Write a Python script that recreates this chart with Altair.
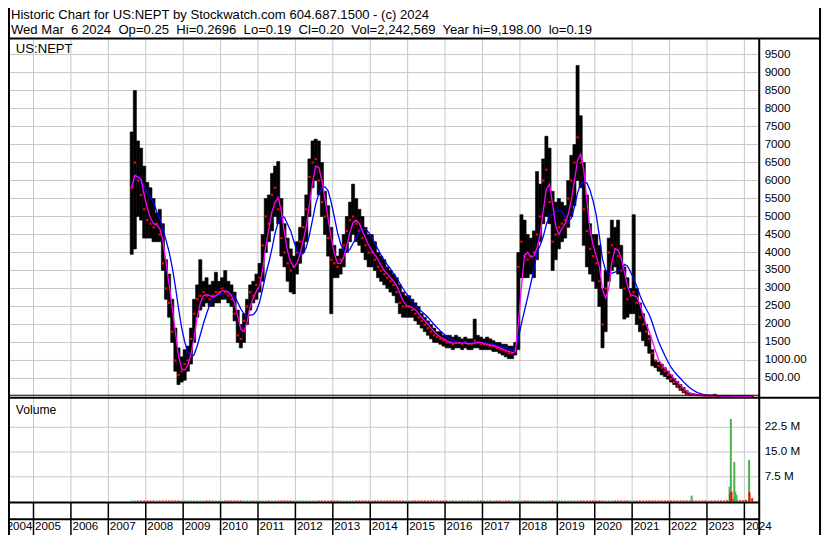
import altair as alt
import pandas as pd

# ---------------- canvas geometry (reference is 830x543, page has 8px margin) -------------
W, H = 814, 527
SX, SY = W / 830.0, H / 543.0


def X(v):
    return round(v * SX, 2)


def Y(v):
    return round(v * SY, 2)


FONT = "Liberation Sans"
GRID = "#c8c8c8"
GREEN = "#4cb04c"
RED = "#ff0000"

# ---------------- texts ----------------
SP = "\u00a0 "
title_line1 = "Historic Chart for US:NEPT by Stockwatch.com 604.687.1500 - (c) 2024"
title_line2 = SP.join(["Wed Mar", "6 2024", "Op=0.25", "Hi=0.2696", "Lo=0.19", "Cl=0.20",
                       "Vol=2,242,569", "Year hi=9,198.00", "lo=0.19"])
symbol = "US:NEPT"
volume_title = "Volume"

# ---------------- monthly price data (Aug 2007 .. Mar 2024) ----------------
first_year, first_month = 2007, 8
high = [
    7350, 8500, 7100, 6900, 6400,                                            # 2007 Aug-Dec
    5950, 5800, 5500, 5100, 5200, 4800, 3800, 3400, 2700, 1900, 1350, 1100,  # 2008
    1300, 1400, 1900, 2700, 3100, 3800, 3200, 3300, 3100, 3200, 3450, 3200,  # 2009
    3300, 3500, 3200, 3100, 2900, 2400, 2000, 2300, 2700, 3100, 3200, 3400,  # 2010
    3700, 4500, 5500, 5600, 6200, 6400, 6527, 5500, 4800, 4400, 4100, 3900,  # 2011
    4300, 4700, 5000, 5600, 6600, 7100, 7150, 7100, 6500, 5700, 5300, 4700,  # 2012
    4200, 3900, 4100, 4500, 5000, 5400, 5900, 5500, 5200, 5000, 4700, 4500,  # 2013
    4500, 4300, 4000, 3900, 3800, 3600, 3500, 3400, 3300, 3100, 2900, 2800,  # 2014
    2800, 2700, 2600, 2500, 2300, 2200, 2100, 2000, 1900, 1800, 1800, 1700,  # 2015
    1700, 1700, 1650, 1700, 1650, 1600, 1650, 1600, 1600, 2150, 1700, 1650,  # 2016
    1600, 1650, 1600, 1550, 1500, 1500, 1450, 1450, 1400, 1400, 1500, 4000,  # 2017
    5050, 4900, 4500, 4400, 4600, 6250, 5900, 6600, 7230, 6900, 5700, 5400,  # 2018
    5500, 5400, 5300, 6000, 6700, 7000, 9198, 7800, 6500, 5600, 4800, 4500,  # 2019
    4500, 4200, 3000, 3500, 4400, 4900, 4700, 4900, 4200, 3600, 3300, 3000,  # 2020
    5050, 3000, 2600, 2300, 2000, 1700, 1300, 1000, 950, 900, 800, 700,      # 2021
    600, 500, 420, 330, 250, 160, 100, 80, 60, 50, 45, 40,                   # 2022
    35, 30, 60, 25, 20, 16, 12, 10, 6, 4, 3, 2,                              # 2023
    1.2, 0.8, 0.27,                                                          # 2024 Jan-Mar
]
low = [
    3950, 4100, 5000, 4900, 4400,
    4400, 4400, 4300, 4300, 4300, 3500, 2700, 2200, 1500, 700, 330, 400,
    450, 700, 900, 1500, 2200, 2400, 2500, 2600, 2500, 2500, 2600, 2600,
    2700, 2700, 2600, 2500, 2100, 1500, 1350, 1500, 2000, 2400, 2600, 2700,
    2900, 3200, 4000, 4300, 4600, 5000, 4800, 3900, 3600, 3200, 2900, 2850,
    3400, 3700, 4000, 4300, 5000, 5800, 6000, 5600, 5000, 4500, 3900, 2300,
    3300, 3300, 3400, 3600, 4000, 4300, 4500, 4300, 4200, 4000, 3800, 3600,
    3600, 3500, 3300, 3200, 3100, 3000, 2900, 2800, 2600, 2300, 2200, 2200,
    2200, 2200, 2100, 2000, 1900, 1800, 1700, 1600, 1500, 1500, 1450, 1400,
    1350, 1350, 1300, 1350, 1350, 1300, 1350, 1300, 1300, 1350, 1350, 1300,
    1300, 1300, 1300, 1250, 1250, 1200, 1150, 1100, 1050, 1050, 1150, 1300,
    3300, 3300, 3300, 3400, 3300, 3800, 4300, 4800, 5000, 4800, 3500, 3800,
    4100, 4300, 4400, 4700, 5000, 5300, 6000, 5800, 4200, 3600, 3400, 3200,
    3000, 2500, 1350, 1800, 3200, 3500, 3600, 3400, 3000, 2150, 2200, 2300,
    2300, 2000, 1800, 1550, 1400, 1200, 850, 800, 700, 600, 550, 480,
    400, 330, 250, 170, 100, 50, 40, 35, 30, 25, 20, 15,
    15, 12, 12, 10, 8, 6, 5, 3, 2, 1, 0.8, 0.5,
    0.3, 0.2, 0.19,
]
close = [
    5800, 6500, 6000, 5600, 5200,
    4900, 4800, 4700, 4800, 4500, 3700, 3000, 2600, 1800, 1000, 600, 700,
    900, 1000, 1600, 2300, 2700, 2800, 2900, 2800, 2700, 2800, 2900, 2900,
    3000, 2900, 2800, 2700, 2300, 1700, 1600, 2100, 2500, 2900, 2800, 3100,
    3300, 4200, 5000, 4800, 5600, 5800, 5200, 4400, 4000, 3700, 3500, 3600,
    4000, 4300, 4700, 5200, 6100, 6500, 6600, 6000, 5400, 5000, 4400, 3800,
    3700, 3600, 3800, 4200, 4600, 4900, 5000, 4800, 4600, 4400, 4200, 4000,
    4000, 3800, 3600, 3500, 3400, 3300, 3200, 3100, 2900, 2600, 2500, 2500,
    2500, 2400, 2300, 2200, 2100, 2000, 1900, 1800, 1700, 1650, 1600, 1550,
    1500, 1500, 1450, 1500, 1500, 1450, 1500, 1450, 1450, 1550, 1500, 1450,
    1450, 1450, 1400, 1400, 1350, 1300, 1300, 1250, 1200, 1200, 1300, 3600,
    4300, 3900, 3800, 3900, 4000, 4500, 5000, 6000, 6300, 5400, 4300, 4500,
    4700, 4800, 4900, 5500, 6000, 6500, 7200, 6500, 5200, 4600, 4100, 3900,
    3700, 3200, 2000, 3000, 4000, 4200, 4100, 3900, 3500, 3000, 2700, 2800,
    2900, 2600, 2200, 2000, 1800, 1600, 1200, 1000, 850, 800, 700, 600,
    480, 400, 300, 220, 140, 80, 60, 50, 40, 35, 30, 25,
    25, 20, 18, 15, 12, 10, 8, 5, 3, 2, 1.5, 1,
    0.5, 0.3, 0.2,
]
# monthly volume (millions) - a thin baseline almost everywhere
vol_month = [
    0.3, 0.3, 0.3, 0.3, 0.3,
    0.3, 0.3, 0.3, 0.3, 0.3, 0.3, 0.3, 0.3, 0.3, 0.3, 0.3, 0.3,
    0.3, 0.3, 0.3, 0.3, 0.3, 0.3, 0.3, 0.3, 0.3, 0.3, 0.3, 0.3,
    0.3, 0.3, 0.3, 0.3, 0.3, 0.3, 0.3, 0.3, 0.3, 0.3, 0.3, 0.3,
    0.3, 0.3, 0.3, 0.3, 0.3, 0.3, 0.3, 0.3, 0.3, 0.3, 0.3, 0.3,
    0.3, 0.3, 0.3, 0.3, 0.3, 0.3, 0.3, 0.3, 0.3, 0.3, 0.3, 0.3,
    0.3, 0.3, 0.3, 0.3, 0.3, 0.3, 0.3, 0.3, 0.3, 0.3, 0.3, 0.3,
    0.3, 0.3, 0.3, 0.3, 0.3, 0.3, 0.3, 0.3, 0.3, 0.3, 0.3, 0.3,
    0.3, 0.3, 0.3, 0.3, 0.3, 0.3, 0.3, 0.3, 0.3, 0.3, 0.3, 0.3,
    0.3, 0.3, 0.3, 0.3, 0.3, 0.3, 0.3, 0.3, 0.3, 0.3, 0.3, 0.3,
    0.3, 0.3, 0.3, 0.3, 0.3, 0.3, 0.3, 0.3, 0.3, 0.3, 0.3, 0.3,
    0.3, 0.3, 0.3, 0.3, 0.3, 0.3, 0.3, 0.3, 0.3, 0.3, 0.3, 0.3,
    0.3, 0.3, 0.3, 0.3, 0.3, 0.3, 0.3, 0.3, 0.3, 0.3, 0.3, 0.3,
    0.3, 0.3, 0.3, 0.3, 0.3, 0.3, 0.3, 0.3, 0.3, 0.3, 0.3, 0.3,
    0.3, 0.3, 0.3, 0.3, 0.3, 0.3, 0.3, 0.3, 0.3, 0.3, 0.3, 0.3,
    0.3, 0.3, 0.3, 0.3, 0.3, 0.3, 0.3, 0.3, 0.3, 0.3, 0.3, 0.3,
    0.3, 0.3, 0.3, 0.3, 0.3, 0.3, 0.4, 0.6, 0.8, 0.5, 0.4, 0.4,
    0.5, 0.6, 1.0,
]
# the few large daily volume spikes (millions)
spike_dates = ["2022-08-05", "2023-08-10", "2023-08-14", "2023-08-22", "2023-08-28",
               "2023-09-25", "2023-10-05", "2023-10-16", "2024-02-16", "2024-02-20"]
spike_vol = [1.8, 4.5, 2.5, 25.0, 3.0, 12.0, 3.0, 2.0, 12.6, 2.8]
spike_dir = ["up", "up", "down", "up", "down", "up", "up", "up", "up", "down"]

# axis ticks
price_ticks = [500, 1000, 1500, 2000, 2500, 3000, 3500, 4000, 4500, 5000,
               5500, 6000, 6500, 7000, 7500, 8000, 8500, 9000, 9500]
price_tick_labels = ["500.00", "1000.00", "1500", "2000", "2500", "3000", "3500", "4000",
                     "4500", "5000", "5500", "6000", "6500", "7000", "7500", "8000",
                     "8500", "9000", "9500"]
vol_ticks = [7.5, 15.0, 22.5]
vol_tick_labels = ["7.5 M", "15.0 M", "22.5 M"]
years = list(range(2005, 2025))
year_labels = [str(y) for y in years]

# ---------------- tables ----------------
rows = []
yy, mm = first_year, first_month
for i in range(len(close)):
    t0 = yy + (mm - 1) / 12.0
    rows.append(dict(t0=t0, t1=t0 + 1 / 12.0, tm=t0 + 0.5 / 12.0,
                     high=high[i], low=low[i], close=close[i], vol=vol_month[i],
                     dir="up" if (i == 0 or close[i] >= close[i - 1]) else "down"))
    mm += 1
    if mm > 12:
        mm = 1
        yy += 1
price_df = pd.DataFrame(rows)


def frac_year(s):
    d = pd.Timestamp(s)
    return d.year + (d.dayofyear - 1) / 365.25


spike_df = pd.DataFrame({"t": [frac_year(s) for s in spike_dates],
                         "vol": spike_vol, "dir": spike_dir})
vol_df = pd.concat([price_df[["tm", "vol", "dir"]].rename(columns={"tm": "t"}), spike_df],
                   ignore_index=True)
vol_df["zero"] = 0.0

ptick_df = pd.DataFrame({"v": price_ticks, "label": price_tick_labels})
vtick_df = pd.DataFrame({"v": vol_ticks, "label": vol_tick_labels})
year_df = pd.DataFrame({"year": years, "label": year_labels})
first_label_df = pd.DataFrame({"year": [2005], "label": ["2004"]})

# ---------------- scales ----------------
xs = alt.Scale(domain=[2005, 2024], range=[X(26), X(750.85)], nice=False, zero=False)
ps = alt.Scale(domain=[0, 9958], range=[Y(400.24), Y(31)], nice=False, zero=False)
vs = alt.Scale(domain=[0, 30], range=[Y(508.5), Y(406.5)], nice=False, zero=False)
dir_color = alt.Color("dir:N", scale=alt.Scale(domain=["up", "down"], range=[GREEN, RED]),
                      legend=None)


def xq(field):
    return alt.X(field, scale=xs, axis=None)


layers = []

# vertical year gridlines (price + volume panels)
layers.append(alt.Chart(year_df).mark_rule(color=GRID, strokeWidth=1).encode(
    x=xq("year:Q"), y=alt.value(Y(32.5)), y2=alt.value(Y(508.5))))
# horizontal price gridlines
layers.append(alt.Chart(ptick_df).mark_rule(color=GRID, strokeWidth=1).encode(
    y=alt.Y("v:Q", scale=ps, axis=None), x=alt.value(X(2)), x2=alt.value(X(765))))
# horizontal volume gridlines
layers.append(alt.Chart(vtick_df).mark_rule(color=GRID, strokeWidth=1).encode(
    y=alt.Y("v:Q", scale=vs, axis=None), x=alt.value(X(2)), x2=alt.value(X(765))))

# price bars (monthly high-low range)
layers.append(alt.Chart(price_df).mark_rect(color="black", stroke="black", strokeWidth=0.6).encode(
    x=xq("t0:Q"), x2="t1:Q",
    y=alt.Y("low:Q", scale=ps, axis=None), y2="high:Q"))
# red close marks
layers.append(alt.Chart(price_df).mark_square(color=RED, size=5, opacity=1).encode(
    x=xq("tm:Q"), y=alt.Y("close:Q", scale=ps, axis=None)))
# long moving average (blue)
layers.append(alt.Chart(price_df).transform_window(
    ma="mean(close)", frame=[-6, 0], sort=[alt.SortField("tm")]
).mark_line(color="#0000ff", strokeWidth=1.3).encode(
    x=xq("tm:Q"), y=alt.Y("ma:Q", scale=ps, axis=None)))
# short moving average (magenta)
layers.append(alt.Chart(price_df).transform_window(
    ma="mean(close)", frame=[-2, 0], sort=[alt.SortField("tm")]
).mark_line(color="#ff00ff", strokeWidth=1.3).encode(
    x=xq("tm:Q"), y=alt.Y("ma:Q", scale=ps, axis=None)))

# volume bars
layers.append(alt.Chart(vol_df).mark_rule(strokeWidth=2).encode(
    x=xq("t:Q"), y=alt.Y("vol:Q", scale=vs, axis=None), y2="zero:Q", color=dir_color))


# ---------------- frame lines ----------------
def hline(x1, x2, y, w=2, color="black"):
    return alt.Chart(pd.DataFrame({"k": [0]})).mark_rule(color=color, strokeWidth=w).encode(
        x=alt.value(X(x1)), x2=alt.value(X(x2)), y=alt.value(Y(y)))


def vline(x, y1, y2, w=2, color="black"):
    return alt.Chart(pd.DataFrame({"k": [0]})).mark_rule(color=color, strokeWidth=w).encode(
        x=alt.value(X(x)), y=alt.value(Y(y1)), y2=alt.value(Y(y2)))


layers += [
    hline(0, 829, 31.5),
    hline(2, 766, 399, w=1),
    hline(0, 829, 401.5),
    hline(0, 766, 509.5),
    hline(0, 766, 526.7),
    vline(1, 0, 543),
    vline(766, 31, 543),
    vline(828, 0, 543),
]
# year separators in the label rows
layers.append(alt.Chart(year_df).mark_rule(color="black", strokeWidth=1.5).encode(
    x=xq("year:Q"), y=alt.value(Y(509.5)), y2=alt.value(Y(543))))

# ---------------- texts ----------------
TS = 12 * SY
layers.append(alt.Chart(ptick_df).mark_text(align="left", baseline="middle", font=FONT,
                                            fontSize=TS, color="black").encode(
    x=alt.value(X(771.5)), y=alt.Y("v:Q", scale=ps, axis=None), text="label:N"))
layers.append(alt.Chart(vtick_df).mark_text(align="left", baseline="middle", font=FONT,
                                            fontSize=TS, color="black").encode(
    x=alt.value(X(771.5)), y=alt.Y("v:Q", scale=vs, axis=None), text="label:N"))
layers.append(alt.Chart(year_df).mark_text(align="left", baseline="middle", font=FONT,
                                           fontSize=TS, color="black", dx=1.5).encode(
    x=xq("year:Q"), y=alt.value(Y(534.7)), text="label:N"))
layers.append(alt.Chart(first_label_df).mark_text(align="right", baseline="middle", font=FONT,
                                                  fontSize=TS, color="black", dx=-1).encode(
    x=xq("year:Q"), y=alt.value(Y(534.7)), text="label:N"))


def label(txt, x, y, size):
    return alt.Chart(pd.DataFrame({"t": [txt]})).mark_text(
        align="left", baseline="alphabetic", font=FONT, fontSize=size, color="black").encode(
        x=alt.value(X(x)), y=alt.value(Y(y)), text="t:N")


layers += [
    label(title_line1, 3, 11.2, 13.5 * SY),
    label(title_line2, 3, 27.2, 13.5 * SY),
    label(symbol, 8, 46, 13.5 * SY),
    label(volume_title, 8, 418, 12.5 * SY),
]

chart = alt.layer(*layers).resolve_scale(
    x="independent", y="independent", color="independent"
).properties(
    width=W, height=H, padding=0, autosize=alt.AutoSizeParams(type="none"),
    background="white",
).configure_view(stroke=None)

chart.save("out.html", embed_options={"renderer": "svg", "actions": False})
